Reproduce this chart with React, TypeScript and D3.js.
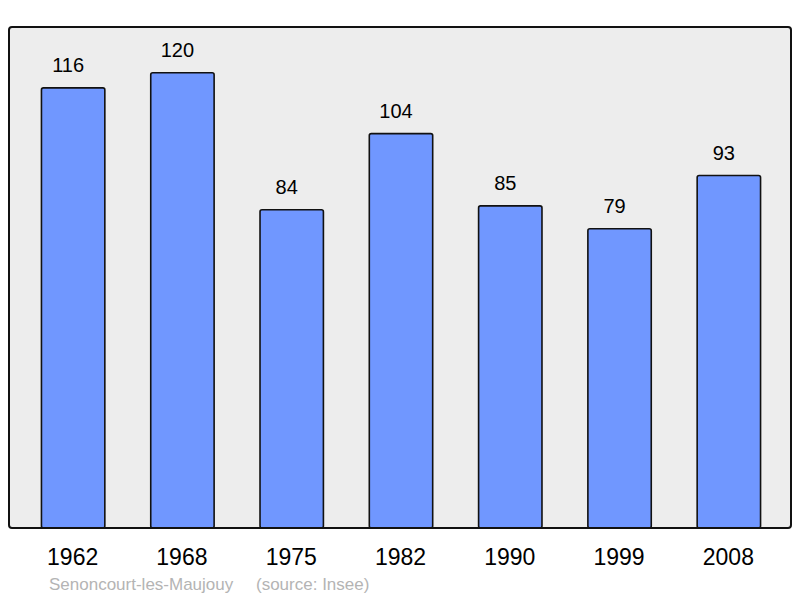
import React from "react";
import * as d3 from "d3";

const years = ["1962", "1968", "1975", "1982", "1990", "1999", "2008"];
const population = [116, 120, 84, 104, 85, 79, 93];
const placeName = "Senoncourt-les-Maujouy";
const sourceNote = "(source: Insee)";

const App = () => {
  const width = 800;
  const height = 598;
  const frame = { x0: 9, y0: 27, x1: 791, y1: 528 };

  const x = d3
    .scaleBand<string>()
    .domain(years)
    .range([18.5, 783.5])
    .paddingInner(0.42)
    .paddingOuter(0.21);

  const y = d3.scaleLinear().domain([0, 132]).range([529.5, frame.y0]);

  return (
    <svg
      width={width}
      height={height}
      viewBox={`0 0 ${width} ${height}`}
      style={{ position: "absolute", left: 0, top: 0, fontFamily: "'Liberation Sans', Arial, sans-serif" }}
    >
      <rect width={width} height={height} fill="#fff" />
      {/* plot background */}
      <rect
        x={frame.x0}
        y={frame.y0}
        width={frame.x1 - frame.x0}
        height={frame.y1 - frame.y0}
        rx={3}
        fill="#ededed"
      />
      {years.map((yr, i) => {
        const v = population[i];
        const bx = x(yr) ?? 0;
        return (
          <g key={yr}>
            <rect
              x={bx}
              y={y(v)}
              width={x.bandwidth()}
              height={frame.y1 - y(v)}
              rx={2}
              fill="#7097ff"
              stroke="#111"
              strokeWidth={1.6}
            />
            <text
              x={bx + x.bandwidth() / 2 - 5}
              y={y(v) - 15.5}
              textAnchor="middle"
              fontSize={20}
              fill="#000"
            >
              {v}
            </text>
            <text
              x={bx + x.bandwidth() / 2 - 0.5}
              y={565}
              textAnchor="middle"
              fontSize={23}
              fill="#000"
            >
              {yr}
            </text>
          </g>
        );
      })}
      {/* frame border on top of bars */}
      <rect
        x={frame.x0}
        y={frame.y0}
        width={frame.x1 - frame.x0}
        height={frame.y1 - frame.y0}
        rx={3}
        fill="none"
        stroke="#111"
        strokeWidth={2}
      />
      <text x={49} y={590} fontSize={17} fill="#b4b4b4">
        {placeName}
      </text>
      <text x={256} y={590} fontSize={17} fill="#b4b4b4">
        {sourceNote}
      </text>
    </svg>
  );
};

export default App;
